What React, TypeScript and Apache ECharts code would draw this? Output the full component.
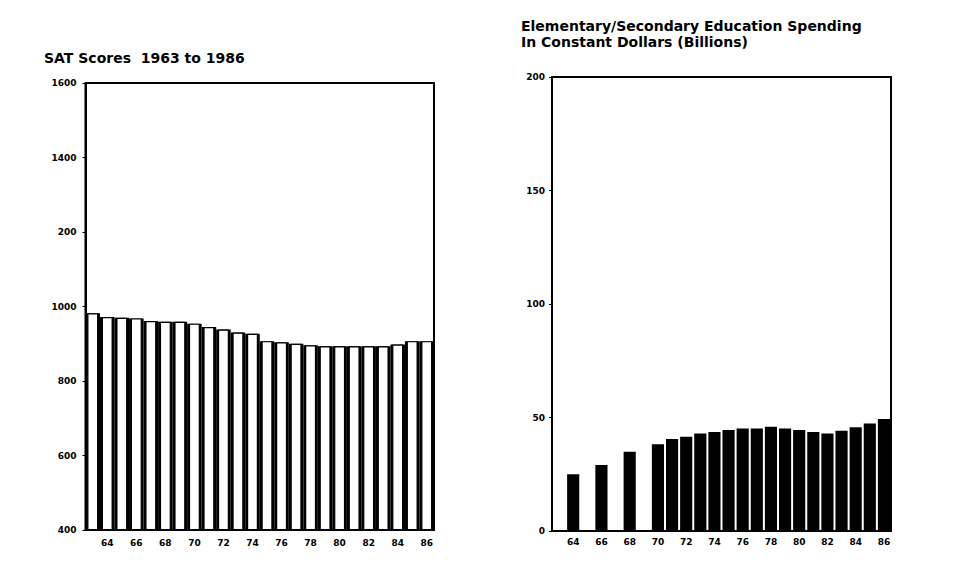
import React, { useEffect, useRef } from "react";
import * as echarts from "echarts";

const years = ["63","64","65","66","67","68","69","70","71","72","73","74","75","76","77","78","79","80","81","82","83","84","85","86"];
const satScores = [982, 972, 970, 968, 961, 959, 959, 954, 945, 938, 930, 927, 907, 904, 900, 896, 893, 893, 893, 893, 893, 898, 907, 907];
const spending = [null, 25.0, null, 29.1, null, 34.9, null, 38.2, 40.5, 41.5, 42.9, 43.6, 44.5, 45.2, 45.2, 45.9, 45.2, 44.5, 43.6, 42.9, 44.2, 45.7, 47.4, 49.3];
const satTickValues = [400, 600, 800, 1000, 1200, 1400, 1600];
const satTickLabels = ["400", "600", "800", "1000", "200", "1400", "1600"];
const spendTickLabels = ["0", "50", "100", "150", "200"];
const leftTitle = "SAT Scores  1963 to 1986";
const rightTitleLines = ["Elementary/Secondary Education Spending", "In Constant Dollars (Billions)"];

const FONT = "DejaVu Sans";
const INK = "#000";

export default function App() {
  const ref = useRef<HTMLDivElement>(null);
  useEffect(() => {
    document.body.style.margin = "0";
    const chart = echarts.init(ref.current!, null, { renderer: "svg" });
    const label = { fontFamily: FONT, fontWeight: "bold", fontSize: 9, color: INK };
    const titleStyle = { fontFamily: FONT, fontWeight: "bold", fontSize: 14, color: INK, lineHeight: 14 };
    const xLabel = (margin: number) => ({
      ...label,
      margin,
      interval: (i: number) => i % 2 === 1,
    });
    chart.setOption({
      animation: false,
      backgroundColor: "#fff",
      title: [
        { text: leftTitle, left: 44, top: 51, padding: 0, textStyle: titleStyle },
        { text: rightTitleLines[0], left: 521, top: 18.5, padding: 0, textStyle: titleStyle },
        { text: rightTitleLines[1], left: 521, top: 35, padding: 0, textStyle: titleStyle },
      ],
      grid: [
        { left: 85.5, top: 83, width: 348.5, height: 447, show: true, borderColor: INK, borderWidth: 2, containLabel: false },
        { left: 552, top: 77, width: 339, height: 454, show: true, borderColor: INK, borderWidth: 2, containLabel: false },
      ],
      xAxis: [
        {
          type: "category", gridIndex: 0, data: years, z: 5,
          axisLine: { show: true, lineStyle: { color: INK, width: 2 } },
          axisTick: { show: false },
          axisLabel: xLabel(8),
        },
        {
          type: "category", gridIndex: 0, data: years, show: false,
        },
        {
          type: "category", gridIndex: 1, data: years, z: 5,
          axisLine: { show: true, lineStyle: { color: INK, width: 2 } },
          axisTick: { show: false },
          axisLabel: xLabel(6),
        },
      ],
      yAxis: [
        {
          type: "value", gridIndex: 0, min: 400, max: 1600, interval: 200, z: 5,
          axisLine: { show: true, lineStyle: { color: INK, width: 2 } },
          axisTick: { show: true, length: 3, lineStyle: { color: INK, width: 1 } },
          splitLine: { show: false },
          axisLabel: {
            ...label,
            margin: 9,
            formatter: (v: number) => {
              const i = satTickValues.indexOf(v);
              return i >= 0 ? satTickLabels[i] : "";
            },
          },
        },
        {
          type: "value", gridIndex: 1, min: 0, max: 200, interval: 50, z: 5,
          axisLine: { show: true, lineStyle: { color: INK, width: 2 } },
          axisTick: { show: true, length: 3, lineStyle: { color: INK, width: 1 } },
          splitLine: { show: false },
          axisLabel: {
            ...label,
            margin: 7,
            formatter: (v: number) => spendTickLabels[Math.round(v / 50)] ?? "",
          },
        },
      ],
      series: [
        {
          type: "bar", xAxisIndex: 0, yAxisIndex: 0, data: satScores,
          barCategoryGap: "0%", itemStyle: { color: INK },
          silent: true,
        },
        {
          type: "bar", xAxisIndex: 1, yAxisIndex: 0, data: satScores,
          barWidth: 11, itemStyle: { color: "#fff", borderColor: INK, borderWidth: 1.2 },
          silent: true, z: 3,
        },
        {
          type: "bar", xAxisIndex: 2, yAxisIndex: 1, data: spending,
          barCategoryGap: "14%", itemStyle: { color: INK },
          silent: true,
        },
      ],
    });
    return () => chart.dispose();
  }, []);
  return <div ref={ref} style={{ width: 975, height: 583 }} />;
}
